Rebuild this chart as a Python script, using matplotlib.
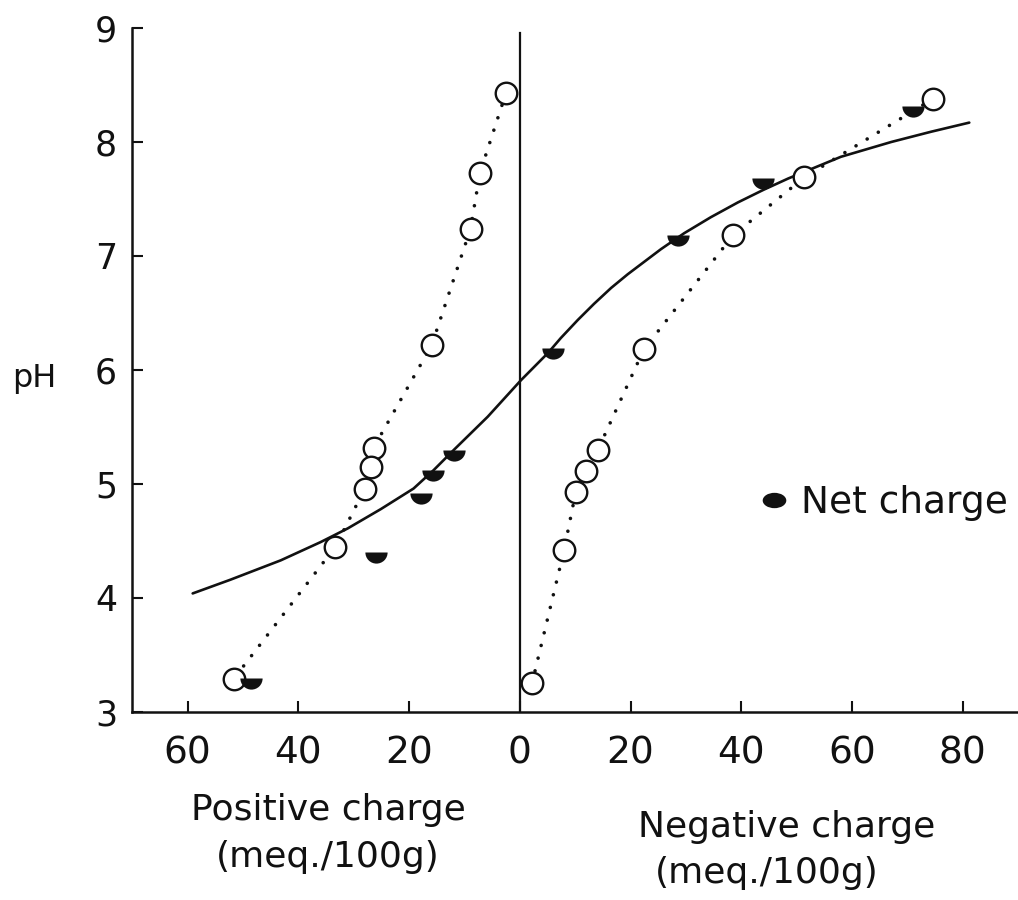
import matplotlib
matplotlib.use("Agg")
import matplotlib.pyplot as plt
from matplotlib.lines import Line2D
from matplotlib.path import Path
from matplotlib.transforms import Affine2D

# Positive charge is plotted on the negative side of the x axis.
pos_x = [-2.5, -7.2, -8.9, -15.9, -26.4, -26.9, -28.0, -33.3, -51.7]
pos_ph = [8.43, 7.73, 7.24, 6.22, 5.32, 5.15, 4.96, 4.45, 3.29]

neg_x = [2.2, 8.0, 10.1, 11.9, 14.1, 22.4, 38.5, 51.4, 74.7]
neg_ph = [3.25, 4.42, 4.93, 5.11, 5.30, 6.18, 7.18, 7.69, 8.38]

net_x = [-48.6, -26.0, -17.9, -15.7, -11.9, 6.0, 28.6, 43.9, 71.1]
net_ph = [3.30, 4.40, 4.92, 5.12, 5.30, 6.19, 7.18, 7.68, 8.32]

# Smooth net-charge curve traced through the points
curve_x = [-59.1, -52.3, -43.2, -36.0, -31.1, -25.1, -19.2, -15.6, -11.9,
           -5.8, 0.2, 5.1, 7.4, 10.5, 13.4, 16.5, 19.5, 25.5, 29.7, 34.5, 39.4,
           44.0, 48.5, 58.0, 67.1, 74.3, 81.2]
curve_ph = [4.04, 4.16, 4.33, 4.49, 4.61, 4.78, 4.96, 5.12, 5.30,
            5.59, 5.91, 6.15, 6.28, 6.44, 6.58, 6.72, 6.84, 7.06, 7.20, 7.34, 7.47,
            7.58, 7.68, 7.87, 8.00, 8.09, 8.17]

xtick_pos = [-60, -40, -20, 0, 20, 40, 60, 80]
xtick_lab = ["60", "40", "20", "0", "20", "40", "60", "80"]
ytick_pos = [3, 4, 5, 6, 7, 8, 9]

plt.rcParams["font.family"] = ["DejaVu Sans"]

fig = plt.figure(figsize=(10.18, 9), dpi=100)
ax = fig.add_axes([0.130, 0.2089, 0.870, 0.760])
ax.set_xlim(-70, 90)
ax.set_ylim(3, 9)

ink = "#111111"
for s in ("top", "right"):
    ax.spines[s].set_visible(False)
for s in ("left", "bottom"):
    ax.spines[s].set_linewidth(1.8)
    ax.spines[s].set_color(ink)

# zero-charge divider
ax.plot([0, 0], [3, 8.96], color=ink, lw=1.6, zorder=2)

dotted = dict(ls=(0, (0.01, 3.6)), lw=2.6, color=ink, dash_capstyle="round")
ax.plot(pos_x, pos_ph, **dotted, zorder=2)
ax.plot(neg_x, neg_ph, **dotted, zorder=2)

ax.plot(curve_x, curve_ph, color=ink, lw=1.9, solid_capstyle="round",
        solid_joinstyle="round", zorder=3)

circ = dict(marker="o", ms=15.5, mfc="white", mec=ink, mew=1.7, ls="none", zorder=4)
ax.plot(pos_x, pos_ph, **circ)
ax.plot(neg_x, neg_ph, **circ)

ax.plot(net_x, net_ph, marker="o", ms=16, fillstyle="bottom", mfc=ink,
        mfcalt="none", mew=0, ls="none", zorder=5)

ax.set_xticks(xtick_pos)
ax.set_xticklabels(xtick_lab)
ax.set_yticks(ytick_pos)
ax.tick_params(axis="both", direction="in", length=8, width=1.5, color=ink,
               labelcolor=ink)
ax.tick_params(axis="x", pad=17, labelsize=27)
ax.tick_params(axis="y", pad=11, labelsize=25)

fig.text(0.034, 0.580, "pH", fontsize=23, ha="center", va="center", color=ink)
fig.text(0.323, 0.100, "Positive charge", fontsize=26, ha="center", va="center", color=ink)
fig.text(0.322, 0.048, "(meq./100g)", fontsize=26, ha="center", va="center", color=ink)
fig.text(0.773, 0.081, "Negative charge", fontsize=26, ha="center", va="center", color=ink)
fig.text(0.753, 0.030, "(meq./100g)", fontsize=26, ha="center", va="center", color=ink)

oval = Path.unit_circle().transformed(Affine2D().scale(1.0, 0.65))
handle = Line2D([], [], marker=oval, ms=17, mfc=ink, mew=0, ls="none")
ax.legend([handle], ["Net charge"], loc="center left",
          bbox_to_anchor=(0.708, 0.305), frameon=False, fontsize=27,
          handlelength=0.8, handletextpad=0.3, borderpad=0, borderaxespad=0,
          labelcolor=ink)

fig.savefig("out.png", dpi=100, facecolor="white")
